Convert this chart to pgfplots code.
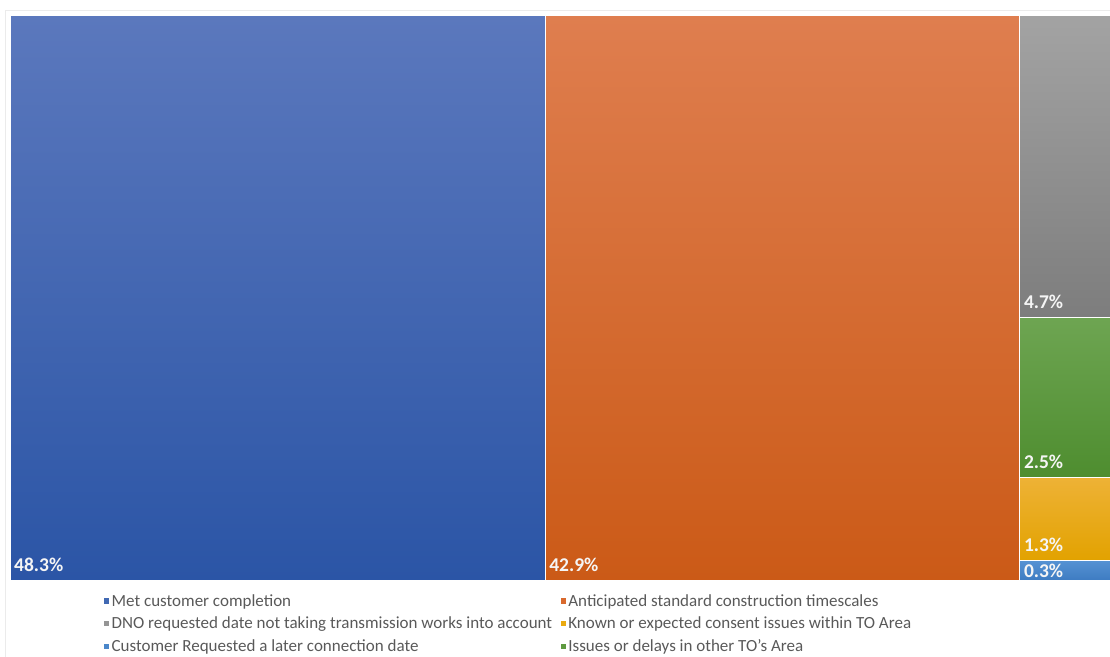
\documentclass[border=0pt]{standalone}
\usepackage{pgfplots}
\pgfplotsset{compat=1.18}
\usepackage{fontspec}
\setmainfont{Carlito}
\definecolor{legtext}{HTML}{595959}
\definecolor{cBlueT}{HTML}{5B78BD}\definecolor{cBlueB}{HTML}{2B55A6}\definecolor{cBlue}{HTML}{4169B3}
\definecolor{cOrT}{HTML}{DF7E4F}\definecolor{cOrB}{HTML}{CB5A17}\definecolor{cOr}{HTML}{D9692D}
\definecolor{cGrT}{HTML}{A3A3A3}\definecolor{cGrB}{HTML}{7D7D7D}\definecolor{cGr}{HTML}{959595}
\definecolor{cGnT}{HTML}{6EA552}\definecolor{cGnB}{HTML}{4E8D2F}\definecolor{cGn}{HTML}{5E9A40}
\definecolor{cYeT}{HTML}{EEB236}\definecolor{cYeB}{HTML}{E2A200}\definecolor{cYe}{HTML}{EAAA10}
\definecolor{cLbT}{HTML}{5592D3}\definecolor{cLbB}{HTML}{3E7CC2}\definecolor{cLb}{HTML}{4A87CA}
\begin{document}
\begin{tikzpicture}[lab/.style={text=white!96!black, font=\fontsize{19.5}{21}\selectfont\bfseries, anchor=base west, inner sep=0pt}]
\begin{axis}[name=ax,
  scale only axis, width=1100pt, height=564pt,
  xmin=0, xmax=100, ymin=0, ymax=1,
  hide axis, clip=false,
  legend columns=2,
  legend cell align=left,
  legend style={at={(0.0825,0)}, anchor=north west, yshift=-10pt,
    draw=none, fill=none, font=\fontsize{17}{19}\selectfont, text=legtext,
    nodes={inner xsep=2.5pt, inner ysep=2.2pt},
    /tikz/every even column/.append style={column sep=6pt},
    row sep=5pt},
  legend image code/.code={\fill[draw=none,#1] (0pt,-2.6pt) rectangle (5.2pt,2.6pt);},
]
% Met customer completion 48.3
\addplot[draw=white, line width=1pt, top color=cBlueT, bottom color=cBlueB, forget plot]
  coordinates {(0,0) (48.65,0) (48.65,1) (0,1)} -- cycle;
% Anticipated standard construction timescales 42.9
\addplot[draw=white, line width=1pt, top color=cOrT, bottom color=cOrB, forget plot]
  coordinates {(48.65,0) (91.8,0) (91.8,1) (48.65,1)} -- cycle;
% DNO requested date ... 4.7  (y from 4.1/8.8 to 1)
\addplot[draw=white, line width=1pt, top color=cGrT, bottom color=cGrB, forget plot]
  coordinates {(91.8,0.46591) (100,0.46591) (100,1) (91.8,1)} -- cycle;
% Issues or delays in other TO's Area 2.5 (1.6/8.8 to 4.1/8.8)
\addplot[draw=white, line width=1pt, top color=cGnT, bottom color=cGnB, forget plot]
  coordinates {(91.8,0.18182) (100,0.18182) (100,0.46591) (91.8,0.46591)} -- cycle;
% Known or expected consent issues 1.3 (0.3/8.8 to 1.6/8.8)
\addplot[draw=white, line width=1pt, top color=cYeT, bottom color=cYeB, forget plot]
  coordinates {(91.8,0.03409) (100,0.03409) (100,0.18182) (91.8,0.18182)} -- cycle;
% Customer requested later date 0.3 (0 to 0.3/8.8)
\addplot[draw=white, line width=1pt, top color=cLbT, bottom color=cLbB, forget plot]
  coordinates {(91.8,0) (100,0) (100,0.03409) (91.8,0.03409)} -- cycle;

\addlegendimage{fill=cBlue}\addlegendentry{Met customer completion}
\addlegendimage{fill=cOr}\addlegendentry{Anticipated standard construction timescales}
\addlegendimage{fill=cGr}\addlegendentry{DNO requested date not taking transmission works into account}
\addlegendimage{fill=cYe}\addlegendentry{Known or expected consent issues within TO Area}
\addlegendimage{fill=cLb}\addlegendentry{Customer Requested a later connection date}
\addlegendimage{fill=cGn}\addlegendentry{Issues or delays in other TO's Area}

\node[lab, xshift=4pt, yshift=9pt] at (axis cs:0,0) {48.3\%};
\node[lab, xshift=4pt, yshift=9pt] at (axis cs:48.65,0) {42.9\%};
\node[lab, xshift=4pt, yshift=9pt] at (axis cs:91.8,0.46591) {4.7\%};
\node[lab, xshift=4pt, yshift=9pt] at (axis cs:91.8,0.18182) {2.5\%};
\node[lab, xshift=4pt, yshift=9pt] at (axis cs:91.8,0.03409) {1.3\%};
\node[lab, xshift=4pt, yshift=2.5pt] at (axis cs:91.8,0) {0.3\%};
\end{axis}
\draw[black!8, line width=0.8pt] ([shift={(1200pt,6pt)}]ax.north west) -- ([shift={(-4.5pt,6pt)}]ax.north west) -- ([shift={(-4.5pt,-80pt)}]ax.south west);
\pgfresetboundingbox
\path ([shift={(-10pt,-76pt)}]ax.south west) rectangle ([shift={(0pt,16pt)}]ax.north east);
\end{tikzpicture}
\end{document}
